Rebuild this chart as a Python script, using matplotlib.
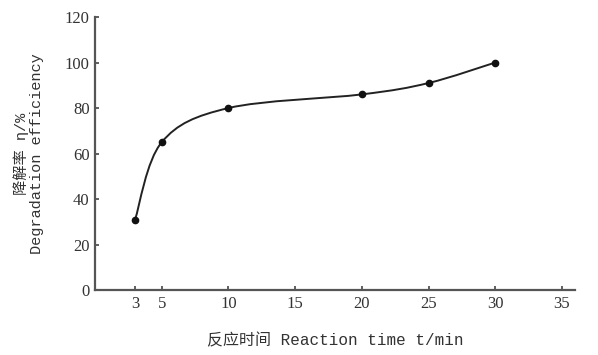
import matplotlib
matplotlib.use("Agg")
from matplotlib import pyplot as plt
from matplotlib.path import Path
from matplotlib.patches import PathPatch

# data
time_min = [3, 5, 10, 20, 25, 30]
efficiency = [31, 65, 80, 86, 91, 100]
x_ticks = [3, 5, 10, 15, 20, 25, 30, 35]
y_ticks = [0, 20, 40, 60, 80, 100, 120]

plt.rcParams['font.family'] = ['Liberation Serif', 'Noto Sans CJK SC']
label_fonts = ['Liberation Mono', 'Noto Sans CJK SC']

fig = plt.figure(figsize=(5.98, 3.55), dpi=100)
ax = fig.add_axes([0.159, 0.183, 0.803, 0.769])

# smooth line through the points (catmull-rom -> bezier segments)
pts = list(zip(time_min, efficiency))
verts = [pts[0]]
codes = [Path.MOVETO]
for i in range(len(pts) - 1):
    p0 = pts[i - 1] if i > 0 else pts[i]
    p1 = pts[i]
    p2 = pts[i + 1]
    p3 = pts[i + 2] if i + 2 < len(pts) else pts[i + 1]
    c1 = (p1[0] + (p2[0] - p0[0]) / 6, p1[1] + (p2[1] - p0[1]) / 6)
    c2 = (p2[0] - (p3[0] - p1[0]) / 6, p2[1] - (p3[1] - p1[1]) / 6)
    verts += [c1, c2, p2]
    codes += [Path.CURVE4] * 3
curve = PathPatch(Path(verts, codes), facecolor='none', edgecolor='#222222', lw=1.4)
ax.add_patch(curve)
ax.plot(time_min, efficiency, 'o', color='#111111', markersize=4.5)

ax.set_xlim(0, 36)
ax.set_ylim(0, 120)
ax.set_xticks(x_ticks)
ax.set_yticks(y_ticks)
ax.spines['top'].set_visible(False)
ax.spines['right'].set_visible(False)
for s in ['left', 'bottom']:
    ax.spines[s].set_linewidth(1.6)
    ax.spines[s].set_color('#555555')
ax.tick_params(direction='in', length=3, width=1.2, color='#444444',
               labelsize=12, labelcolor='#333333', pad=4)

ax.set_xlabel('反应时间 Reaction time t/min', fontsize=11.5, color='#333333',
              labelpad=15, family=label_fonts)
ax.set_ylabel('降解率 η/%\nDegradation efficiency', fontsize=11, color='#333333',
              labelpad=15, multialignment='center', linespacing=1.1, family=label_fonts)

fig.savefig('out.png', dpi=100)
